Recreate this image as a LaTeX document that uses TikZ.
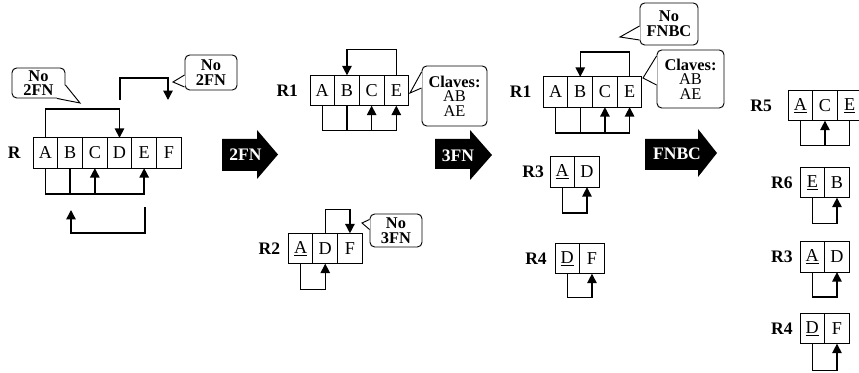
\documentclass[tikz,border=0pt]{standalone}
\usepackage{fontspec}
\setmainfont{Liberation Serif}
\usetikzlibrary{arrows.meta, positioning, calc}

\begin{document}
\begin{tikzpicture}[
  x=0.03cm, y=-0.03cm,
  node distance=0pt,
  cell/.style={
    rectangle, draw, line width=0.8pt, outer sep=0pt, inner sep=0pt,
    minimum width=0.74cm, minimum height=0.91cm, font=\fontsize{15.5}{17}\selectfont,
  },
  rel/.style={inner sep=0pt, font=\fontsize{15}{17}\selectfont\bfseries},
  bubble/.style={
    rectangle, draw, line width=0.8pt, rounded corners=4pt, fill=white,
    inner sep=0pt, align=center, font=\fontsize{14}{12.5}\selectfont\bfseries,
  },
  stage/.style={inner sep=0pt, text=white, font=\fontsize{15}{17}\selectfont\bfseries},
  link/.style={line width=1.2pt},
  flow/.style={link, -{Triangle[length=8pt, width=8pt]}},
  tail/.style={line width=0.8pt},
]
  \useasboundingbox (0,0) rectangle (859,373);
  \clip (0,0) rectangle (859,373);

  \node[cell] (ra) at (45.5,153) {A};
  \node[cell, right=of ra] (rb) {B};
  \node[cell, right=of rb] (rc) {C};
  \node[cell, right=of rc] (rd) {D};
  \node[cell, right=of rd] (re) {E};
  \node[cell, right=of re] (rf) {F};
  \node[rel, left=10.5pt of ra] (lr) {R};

  \node[cell] (r1a) at (322.3,90.5) {A};
  \node[cell, right=of r1a] (r1b) {B};
  \node[cell, right=of r1b] (r1c) {C};
  \node[cell, right=of r1c] (r1e) {E};
  \node[rel, left=10pt of r1a] (lr1) {R1};

  \node[cell] (r2a) at (300.6,248.5) {\underline{A}};
  \node[cell, right=of r2a] (r2d) {D};
  \node[cell, right=of r2d] (r2f) {F};
  \node[rel, left=6.8pt of r2a] (lr2) {R2};

  \node[cell] (s1a) at (555.6,92) {A};
  \node[cell, right=of s1a] (s1b) {B};
  \node[cell, right=of s1b] (s1c) {C};
  \node[cell, right=of s1c] (s1e) {E};
  \node[rel, left=10pt of s1a] (ls1) {R1};

  \node[cell] (s3a) at (562.3,172) {\underline{A}};
  \node[cell, right=of s3a] (s3d) {D};
  \node[rel, left=5pt of s3a] (ls3) {R3};

  \node[cell] (s4d) at (567.3,258.5) {\underline{D}};
  \node[cell, right=of s4d] (s4f) {F};
  \node[rel, left=6.8pt of s4d] (ls4) {R4};

  \node[cell] (t5a) at (800.3,105.5) {\underline{A}};
  \node[cell, right=of t5a] (t5c) {C};
  \node[cell, right=of t5c] (t5e) {\underline{E}};
  \node[rel, left=13.6pt of t5a] (lt5) {R5};

  \node[cell] (t6e) at (812.3,182.5) {\underline{E}};
  \node[cell, right=of t6e] (t6b) {B};
  \node[rel, left=6pt of t6e] (lt6) {R6};

  \node[cell] (t3a) at (812.3,257) {\underline{A}};
  \node[cell, right=of t3a] (t3d) {D};
  \node[rel, left=6pt of t3a] (lt3) {R3};

  \node[cell] (t4d) at (812.3,328.5) {\underline{D}};
  \node[cell, right=of t4d] (t4f) {F};
  \node[rel, left=6pt of t4d] (lt4) {R4};

  \coordinate (rx1) at (120,100);
  \coordinate (rx2) at (168,100);
  \coordinate (ry1) at (145,207);
  \coordinate (ry2) at (71,210);
  \draw[flow] (ra.north) -- ++(0,-29) -| (rd.north);
  \draw[flow] (rx1) -- ++(0,-22) -| (rx2);
  \draw[flow] (ra.south) -- ++(0,26) -| (re.south);
  \draw[link] (rb.south) -- ++(0,26);
  \draw[flow] (rc.south) ++(0,26) -- (rc.south);
  \draw[flow] (ry1) -- ++(0,26) -| (ry2);

  \draw[flow] (r1e.north) -- ++(0,-26) -| (r1b.north);
  \draw[flow] (r1a.south) -- ++(0,25) -| (r1e.south);
  \draw[link] (r1b.south) -- ++(0,25);
  \draw[flow] (r1c.south) ++(0,25) -- (r1c.south);

  \draw[flow] (r2d.north) -- ++(0,-24) -| (r2f.north);
  \draw[flow] (r2a.south) -- ++(0,26) -| (r2d.south);

  \draw[flow] (s1e.north) -- ++(0,-25) -| (s1b.north);
  \draw[flow] (s1a.south) -- ++(0,26) -| (s1e.south);
  \draw[link] (s1b.south) -- ++(0,26);
  \draw[flow] (s1c.south) ++(0,26) -- (s1c.south);

  \draw[flow] (s3a.south) -- ++(0,26) -| (s3d.south);
  \draw[flow] (s4d.south) -- ++(0,24) -| (s4f.south);

  \draw[link] (t5a.south) -- ++(0,25) -| (t5e.south);
  \draw[flow] (t5c.south) ++(0,25) -- (t5c.south);
  \draw[flow] (t6e.south) -- ++(0,26) -| (t6b.south);
  \draw[flow] (t3a.south) -- ++(0,25) -| (t3d.south);
  \draw[flow] (t4d.south) -- ++(0,27) -| (t4f.south);

  \node[bubble, minimum width=1.59cm, minimum height=0.9cm] (nofn1) at (38.5,83) {No\\2FN};
  \node[bubble, minimum width=1.56cm, minimum height=1.05cm] (nofn2) at (211,72.5) {No\\2FN};
  \node[bubble, minimum width=1.56cm, minimum height=0.99cm] (nofn3) at (396,230.5) {No\\3FN};
  \node[bubble, minimum width=1.74cm, minimum height=1.26cm] (nofnbc) at (669,24) {No\\FNBC};
  \node[bubble, minimum width=1.95cm, minimum height=1.8cm] (clv1) at (454.5,96) {Claves:\\{\mdseries AB}\\{\mdseries AE}};
  \node[bubble, minimum width=2.01cm, minimum height=1.74cm] (clv2) at (690.5,79) {Claves:\\{\mdseries AB}\\{\mdseries AE}};

  \coordinate (n1p) at (80,103);
  \coordinate (n2p) at (173,82);
  \coordinate (n3p) at (362,223);
  \coordinate (n4p) at (620,37);
  \coordinate (c1p) at (410,93);
  \coordinate (c2p) at (643,78);
  \fill[white] ($(nofn1.east)+(-0.7,2)$) -- (n1p) -- ($(nofn1.south)+(18.5,-0.7)$) -- cycle;
  \draw[tail] ($(nofn1.east)+(0,2)$) -- (n1p) -- ($(nofn1.south)+(18.5,0)$);
  \fill[white] ($(nofn2.west)+(0.7,2.5)$) -- (n2p) -- ($(nofn2.west)+(0.7,14.5)$) -- cycle;
  \draw[tail] ($(nofn2.west)+(0,2.5)$) -- (n2p) -- ($(nofn2.west)+(0,14.5)$);
  \fill[white] ($(nofn3.west)+(0.7,-11)$) -- (n3p) -- ($(nofn3.west)+(0.7,-1)$) -- cycle;
  \draw[tail] ($(nofn3.west)+(0,-11)$) -- (n3p) -- ($(nofn3.west)+(0,-1)$);
  \fill[white] ($(nofnbc.west)+(0.7,2)$) -- (n4p) -- ($(nofnbc.west)+(0.7,16)$) -- cycle;
  \draw[tail] ($(nofnbc.west)+(0,2)$) -- (n4p) -- ($(nofnbc.west)+(0,16)$);
  \fill[white] ($(clv1.west)+(0.7,-24)$) -- (c1p) -- ($(clv1.west)+(0.7,-8)$) -- cycle;
  \draw[tail] ($(clv1.west)+(0,-24)$) -- (c1p) -- ($(clv1.west)+(0,-8)$);
  \fill[white] ($(clv2.west)+(0.7,-23)$) -- (c2p) -- ($(clv2.west)+(0.7,6)$) -- cycle;
  \draw[tail] ($(clv2.west)+(0,-23)$) -- (c2p) -- ($(clv2.west)+(0,6)$);

  \fill (222,139) -- (257,139) -- (257,130) -- (278,154.5) -- (257,179) -- (257,171) -- (222,171) -- cycle;
  \fill (435,139) -- (470,139) -- (470,130) -- (492,155) -- (470,180) -- (470,169) -- (435,169) -- cycle;
  \fill (645,139) -- (698,139) -- (698,129) -- (717,153) -- (698,177) -- (698,170) -- (645,170) -- cycle;
  \node[stage] (s2fn) at (245.5,155) {2FN};
  \node[stage] (s3fn) at (458,156) {3FN};
  \node[stage] (sfnbc) at (677,154) {FNBC};
\end{tikzpicture}
\end{document}
